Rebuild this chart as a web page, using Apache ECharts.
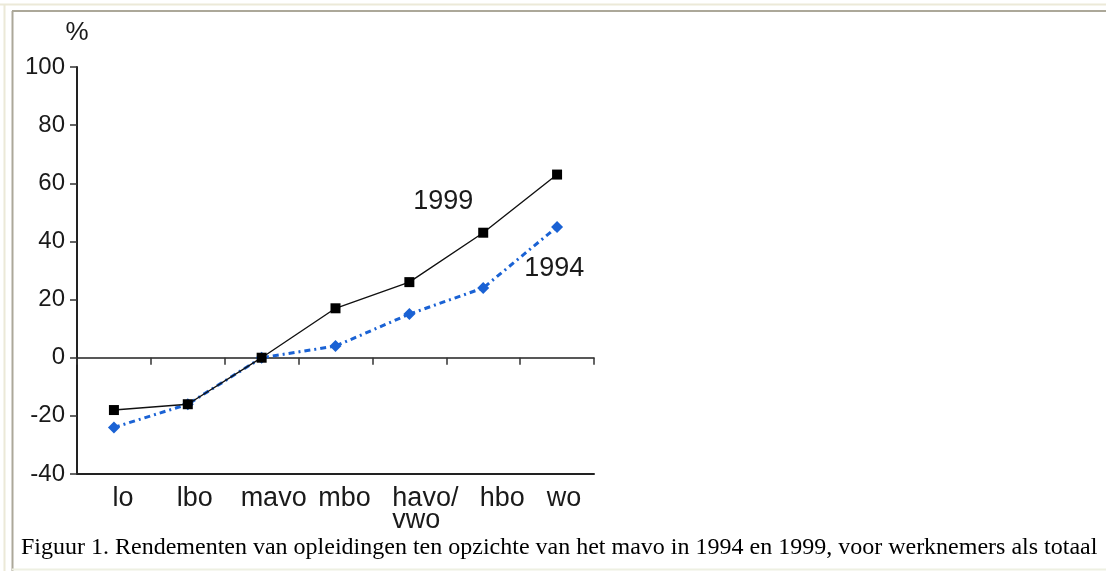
<!DOCTYPE html>
<html>
<head>
<meta charset="utf-8">
<script src="https://cdn.jsdelivr.net/npm/echarts@6/dist/echarts.min.js"></script>
<style>
html,body{margin:0;padding:0;background:#fff;}
#chart{width:1106px;height:571px;}
</style>
</head>
<body>
<div id="chart"></div>
<script>
const categories = ['lo', 'lbo', 'mavo', 'mbo', 'havo/\nvwo', 'hbo', 'wo'];
const values1999 = [-18, -16, 0, 17, 26, 43, 63];
const values1994 = [-24, -16, 0, 4, 15, 24, 45];
const yTicks = { min: -40, max: 100, interval: 20 };
const caption = 'Figuur 1. Rendementen van opleidingen ten opzichte van het mavo in 1994 en 1999, voor werknemers als totaal';

// style: horizontal nudges of category labels as seen in the reference (px)
const labelNudge = [9, 7, 12, 9, 16, 19, 7];

const chart = echarts.init(document.getElementById('chart'), null, { renderer: 'canvas' });
const sans = '"Liberation Sans", Arial, sans-serif';
const txt = '#1a1a1a';

const rich = {};
labelNudge.forEach((n, i) => {
  rich['c' + i] = { fontSize: 27, fontFamily: sans, color: txt, lineHeight: 22, padding: [0, 0, 0, 2 * n] };
});
rich.c4 = { fontSize: 27, fontFamily: sans, color: txt, lineHeight: 22, width: 66, align: 'left', padding: [0, 0, 0, 2 * labelNudge[4]] };

const d1999 = values1999.map((v, i) => i === 5 ? {
  value: v,
  label: { show: true, formatter: '1999', position: 'inside', offset: [-40, -31], color: txt, fontSize: 27, fontFamily: sans }
} : v);
const d1994 = values1994.map((v, i) => i === 5 ? {
  value: v,
  label: { show: true, formatter: '1994', position: 'inside', offset: [71, -19], color: txt, fontSize: 27, fontFamily: sans }
} : v);

chart.setOption({
  animation: false,
  backgroundColor: '#fff',
  grid: { left: 77, right: 512, top: 67, bottom: 97, containLabel: false },
  xAxis: [
    {
      type: 'category', data: categories, position: 'bottom', boundaryGap: true,
      axisLine: { onZero: false, lineStyle: { color: '#222', width: 2 } },
      axisTick: { show: false },
      axisLabel: {
        color: txt, fontSize: 27, fontFamily: sans, margin: 14, lineHeight: 22, interval: 0,
        formatter: (val, idx) => val.split('\n').map(l => '{c' + idx + '|' + l + '}').join('\n'),
        rich: rich
      },
      splitLine: { show: false }
    },
    {
      type: 'category', data: categories, position: 'bottom', boundaryGap: true,
      axisLine: { onZero: true, lineStyle: { color: '#222', width: 1.5 } },
      axisTick: { show: true, inside: false, length: 7, lineStyle: { color: '#333', width: 1.5 } },
      axisLabel: { show: false },
      splitLine: { show: false }
    }
  ],
  yAxis: {
    type: 'value', min: yTicks.min, max: yTicks.max, interval: yTicks.interval,
    name: '%', nameLocation: 'end', nameGap: 34,
    nameTextStyle: { color: txt, fontSize: 26, fontFamily: sans, align: 'center', verticalAlign: 'middle' },
    axisLine: { show: true, lineStyle: { color: '#222', width: 2 } },
    axisTick: { show: true, length: 7, lineStyle: { color: '#333', width: 1.5 } },
    axisLabel: { color: txt, fontSize: 24, fontFamily: sans, margin: 12 },
    splitLine: { show: false }
  },
  series: [
    {
      name: '1994', type: 'line', data: d1994, xAxisIndex: 0,
      symbol: 'diamond', symbolSize: 12,
      itemStyle: { color: '#1a62d4' },
      lineStyle: { color: '#1a62d4', width: 3, type: [6, 4, 2, 4] },
      z: 2
    },
    {
      name: '1999', type: 'line', data: d1999, xAxisIndex: 0,
      symbol: 'rect', symbolSize: 10,
      itemStyle: { color: '#000' },
      lineStyle: { color: '#111', width: 1.4 },
      z: 3
    }
  ],
  graphic: [
    { type: 'line', shape: { x1: 0, y1: 4.5, x2: 1106, y2: 4.5 }, style: { stroke: '#ece9d8', lineWidth: 2 } },
    { type: 'line', shape: { x1: 4.5, y1: 4, x2: 4.5, y2: 571 }, style: { stroke: '#ece9d8', lineWidth: 2 } },
    { type: 'line', shape: { x1: 12, y1: 11, x2: 1106, y2: 11 }, style: { stroke: '#aca899', lineWidth: 2 } },
    { type: 'line', shape: { x1: 12.5, y1: 11, x2: 12.5, y2: 571 }, style: { stroke: '#aca899', lineWidth: 2 } },
    { type: 'line', shape: { x1: 12, y1: 569.5, x2: 1106, y2: 569.5 }, style: { stroke: '#eef0e2', lineWidth: 2 } },
    {
      type: 'text', x: 21, y: 548,
      style: { text: caption, fill: '#000', fontSize: 24, fontFamily: '"Liberation Serif", "Times New Roman", serif', verticalAlign: 'middle' }
    }
  ]
});
</script>
</body>
</html>
